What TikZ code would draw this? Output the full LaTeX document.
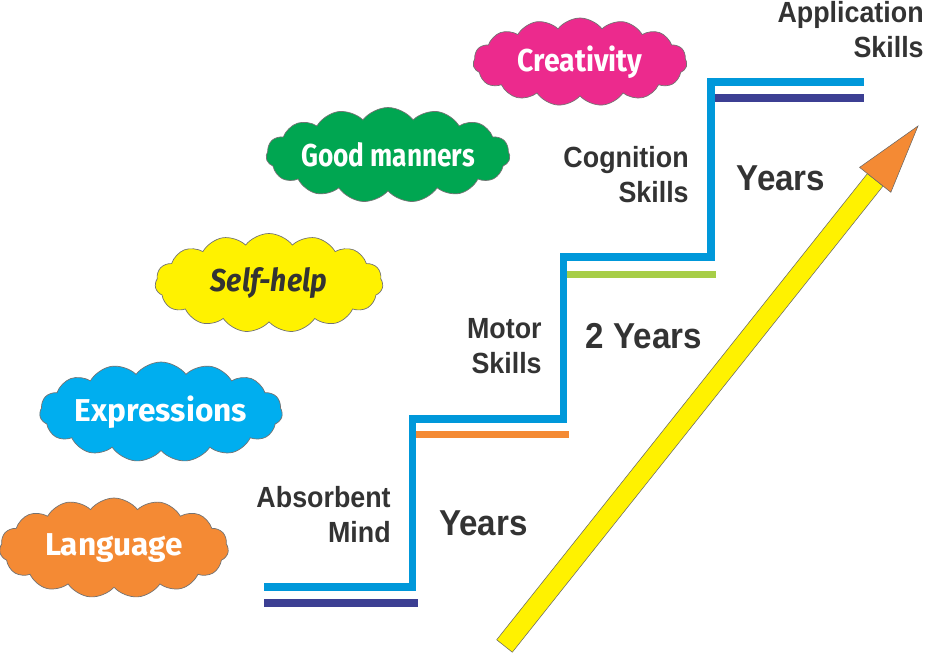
\documentclass[tikz,border=0pt]{standalone}
\usepackage{fontspec}
\setmainfont{Liberation Sans}[FakeStretch=0.92]
\newfontfamily\cloudfont{Fira Sans}
\newfontfamily\cloudfontN{Fira Sans}[FakeStretch=0.9]
\newfontfamily\cloudfontNN{Fira Sans}[FakeStretch=0.83]
\usetikzlibrary{shapes.symbols, calc}
\definecolor{stairblue}{RGB}{0,152,218}
\definecolor{cNavy}{RGB}{60,63,147}
\definecolor{cOrange}{RGB}{244,138,52}
\definecolor{cLime}{RGB}{167,206,71}
\definecolor{cCyan}{RGB}{0,174,239}
\definecolor{cYellow}{RGB}{255,242,0}
\definecolor{cGreen}{RGB}{0,166,81}
\definecolor{cMagenta}{RGB}{236,42,141}
\definecolor{textgray}{RGB}{51,51,51}

\tikzset{
  bubble/.style={cloud, cloud puffs=15, cloud puff arc=105, cloud ignores aspect,
    draw=black!55, line width=0.4pt, inner sep=0pt, text=white,
    font=\cloudfont\fontsize{18}{20}\selectfont\bfseries},
  tread/.style={line width=4.5pt, stairblue},
  ledge/.style={line width=4pt},
  steplabel/.style={font=\fontsize{16.6}{20.2}\selectfont\bfseries,
    text=textgray, align=right, inner sep=0pt, anchor=north east},
  yearlabel/.style={font=\fontsize{20.5}{24}\selectfont\bfseries,
    text=textgray, inner sep=0pt, anchor=base},
}

\begin{document}
\begin{tikzpicture}[x=0.02cm, y=-0.02cm]
  \useasboundingbox (0,0) rectangle (926,655);

  % clouds
  \node[bubble, fill=cOrange, minimum width=4.58cm, minimum height=2cm] (language) at (114,548) {Language};
  \node[bubble, fill=cCyan, minimum width=4.62cm, minimum height=2cm] (expressions) at (161,412) {Expressions};
  \node[bubble, fill=cYellow, text=textgray, minimum width=4.56cm, minimum height=1.98cm] (selfhelp) at (269,283) {\cloudfontN\bfseries\itshape Self-help};
  \node[bubble, fill=cGreen, minimum width=4.8cm, minimum height=1.9cm] (manners) at (388,155) {\cloudfontNN\bfseries Good manners};
  \node[bubble, fill=cMagenta, minimum width=4.28cm, minimum height=1.76cm] (creativity) at (580,62) {\cloudfontN\bfseries Creativity};

  % stairs
  \draw[tread] (264,587) -- (412.5,587) -- (412.5,419) -- (563.5,419)
    -- (563.5,257) -- (711,257) -- (711,82) -- (864,82);
  \draw[ledge, cNavy] (264,603) -- (418,603);
  \draw[ledge, cOrange] (416,434.5) -- (569,434.5);
  \draw[ledge, cLime] (567,274.5) -- (716,274.5);
  \draw[ledge, cNavy] (715,98) -- (864,98);

  \node[steplabel] (absorbent) at (391,486) {Absorbent\\Mind};
  \node[steplabel] (motor) at (542,318) {Motor\\Skills};
  \node[steplabel] (cognition) at (689,146) {Cognition\\Skills};
  \node[steplabel] (application) at (924,1) {Application\\Skills};

  \node[yearlabel] (yearsA) at (483.5,535) {Years};
  \node[yearlabel] (yearsB) at (644,348) {2 Years};
  \node[yearlabel] (yearsC) at (781,191) {Years};

  % arrow
  \coordinate (tail) at (504.5,646);
  \coordinate (tip) at (918,126);
  \coordinate (hb) at ($(tail)!0.8965!(tip)$);
  \filldraw[fill=cYellow, draw=black!60, line width=0.3pt]
    ($(tail)!0.2cm!90:(tip)$) -- ($(hb)!0.2cm!90:(tip)$)
    -- ($(hb)!0.2cm!-90:(tip)$) -- ($(tail)!0.2cm!-90:(tip)$) -- cycle;
  \filldraw[fill=cOrange, draw=black!60, line width=0.3pt]
    (tip) -- ($(hb)!0.4cm!90:(tip)$) -- ($(hb)!0.4cm!-90:(tip)$) -- cycle;
\end{tikzpicture}
\end{document}
